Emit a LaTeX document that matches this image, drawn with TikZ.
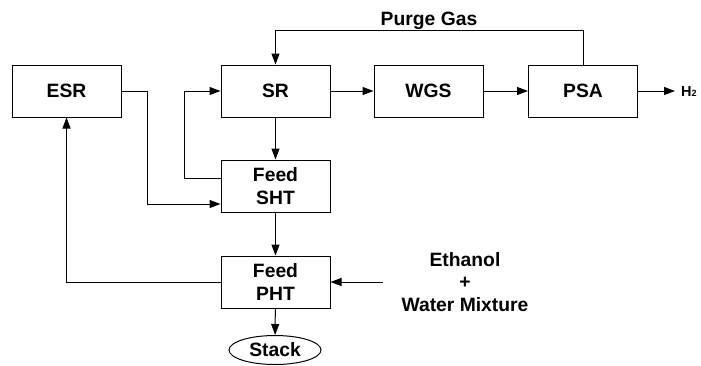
\documentclass[tikz,border=0pt]{standalone}
\usepackage{fontspec}
\setmainfont{Liberation Sans}
\usetikzlibrary{arrows.meta,shapes.geometric}
\begin{document}
\begin{tikzpicture}[x=1pt,y=-1pt,
  font=\fontsize{19.3}{22.5}\selectfont\bfseries,
  unit/.style={draw,line width=1pt,minimum width=109pt,minimum height=52pt,inner sep=0pt,align=center},
  flow/.style={draw,line width=1pt,-{Triangle[length=11pt,width=8pt]}},
  plain/.style={draw,line width=1pt}]
\useasboundingbox (0,0) rectangle (701,365);
\node[unit] (esr) at (66.5,91) {ESR};
\node[unit] (sr) at (275.5,91) {SR};
\node[unit] (wgs) at (428.5,91) {WGS};
\node[unit] (psa) at (583,91) {PSA};
\node[unit] (sht) at (275.5,186) {Feed\\SHT};
\node[unit] (pht) at (275.5,282) {Feed\\PHT};
\node[draw,line width=1pt,ellipse,minimum width=92pt,minimum height=29pt,inner sep=0pt] (stack) at (275,350) {Stack};
\node[anchor=base west,inner sep=0pt] (h2) at (681,96.5) {\fontsize{14.5}{16}\selectfont H\fontsize{9}{10}\selectfont 2};
\node (purge) at (429,21) {Purge Gas};
\node[align=center] (eth) at (465,282) {Ethanol\\+\\Water Mixture};
\coordinate (h2in) at (675,91);
\coordinate (ethin) at (383,282);
% main chain
\draw[flow] (sr) -- (wgs);
\draw[flow] (wgs) -- (psa);
\draw[flow] (psa) -- (h2in);
\draw[flow] (sr) -- (sht);
\draw[flow] (sht) -- (pht);
\draw[flow] (pht) -- (stack);
\draw[flow] (ethin) -- (pht);
% purge gas loop
\draw[flow] (psa.north) -- ++(0,-34) -| (sr.north);
% ESR to SHT
\draw[flow] (esr.east) -- (147,91) |- (sht.west |- 0,204);
% SHT back to SR
\draw[flow] (sht.west |- 0,178) -- (184,178) |- (sr.west);
% PHT to ESR
\draw[flow] (pht.west) -| (esr.south);
\end{tikzpicture}
\end{document}
